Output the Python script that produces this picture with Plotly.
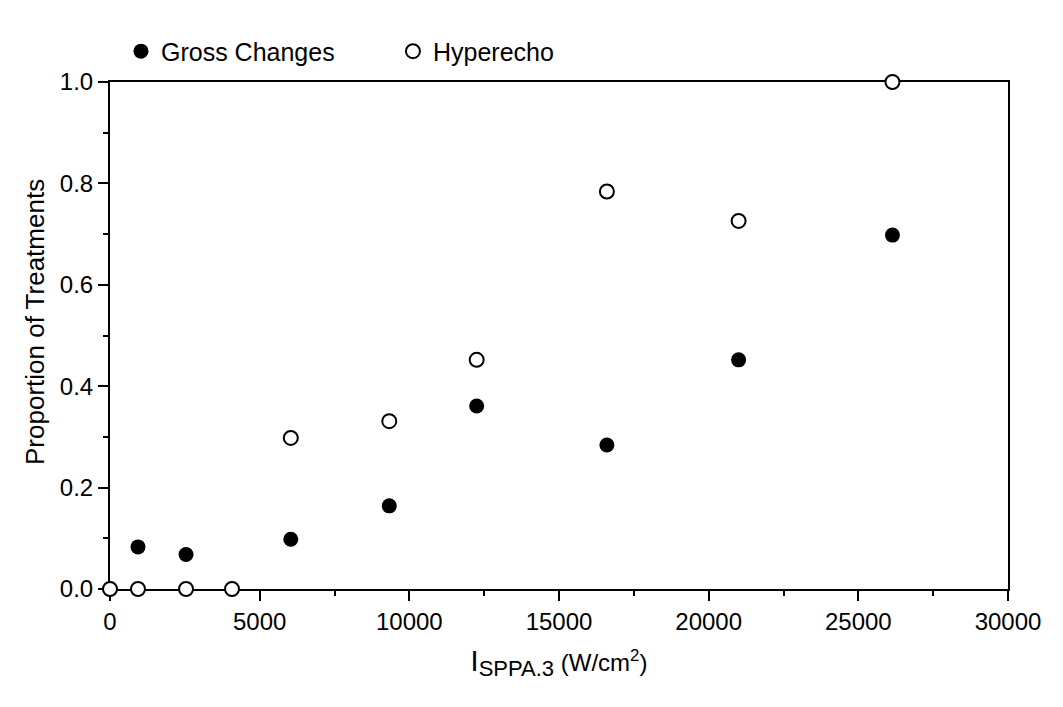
import plotly.graph_objects as go

intensity = [0, 935, 2540, 4076, 6040, 9330, 12250, 16600, 21000, 26140]
gross_changes = [0.0, 0.083, 0.068, 0.0, 0.098, 0.164, 0.361, 0.284, 0.452, 0.698]
hyperecho = [0.0, 0.0, 0.0, 0.0, 0.298, 0.331, 0.452, 0.784, 0.726, 1.0]

x_ticks = [0, 5000, 10000, 15000, 20000, 25000, 30000]
y_ticks = [0.0, 0.2, 0.4, 0.6, 0.8, 1.0]
y_tick_text = ["0.0", "0.2", "0.4", "0.6", "0.8", "1.0"]

FONT = "Liberation Sans, Arial, Helvetica, sans-serif"

fig = go.Figure()
fig.add_trace(go.Scatter(
    x=intensity, y=gross_changes, mode="markers", name="Gross Changes",
    marker=dict(symbol="circle", size=15, color="black", line=dict(color="black", width=0)),
    cliponaxis=False,
))
fig.add_trace(go.Scatter(
    x=intensity, y=hyperecho, mode="markers", name="Hyperecho",
    marker=dict(symbol="circle", size=14, color="white", line=dict(color="black", width=2)),
    cliponaxis=False,
))

axis_common = dict(
    showgrid=False, zeroline=False, showline=True, linecolor="black", linewidth=2,
    mirror=True, ticks="outside", ticklen=10, tickwidth=2, tickcolor="black",
    layer="below traces", tickfont=dict(family=FONT, size=24, color="black"),
)

fig.update_layout(
    width=1063, height=707,
    margin=dict(l=102, r=63, t=74, b=126),
    paper_bgcolor="white", plot_bgcolor="white",
    font=dict(family=FONT, size=24, color="black"),
    showlegend=True,
    legend=dict(
        orientation="h", x=0.0122, xanchor="left", y=1.015, yanchor="bottom",
        font=dict(family=FONT, size=25, color="black"),
        entrywidth=227, entrywidthmode="pixels",
        bgcolor="rgba(0,0,0,0)", borderwidth=0,
    ),
    xaxis=dict(
        range=[0, 30000], tickvals=x_ticks, ticktext=[str(v) for v in x_ticks],
        minor=dict(dtick=2500, ticks="outside", ticklen=5, tickwidth=2, tickcolor="black"),
        title=dict(
            text="<span style='font-size:29px'>I</span><sub><span style='font-size:22px'>SPPA.3</span></sub> (W/cm<sup>2</sup>)",
            font=dict(family=FONT, size=24), standoff=20),
        **axis_common,
    ),
    yaxis=dict(
        range=[0, 1], tickvals=y_ticks, ticktext=y_tick_text,
        minor=dict(dtick=0.1, ticks="outside", ticklen=5, tickwidth=2, tickcolor="black"),
        **axis_common,
    ),
    annotations=[dict(
        text="Proportion of Treatments", textangle=-90, showarrow=False,
        xref="paper", yref="paper", x=(35 - 110) / 898, y=(589 - 322) / 507,
        xanchor="center", yanchor="middle",
        font=dict(family=FONT, size=26, color="black"),
    )],
)

fig.write_html("out.html")
